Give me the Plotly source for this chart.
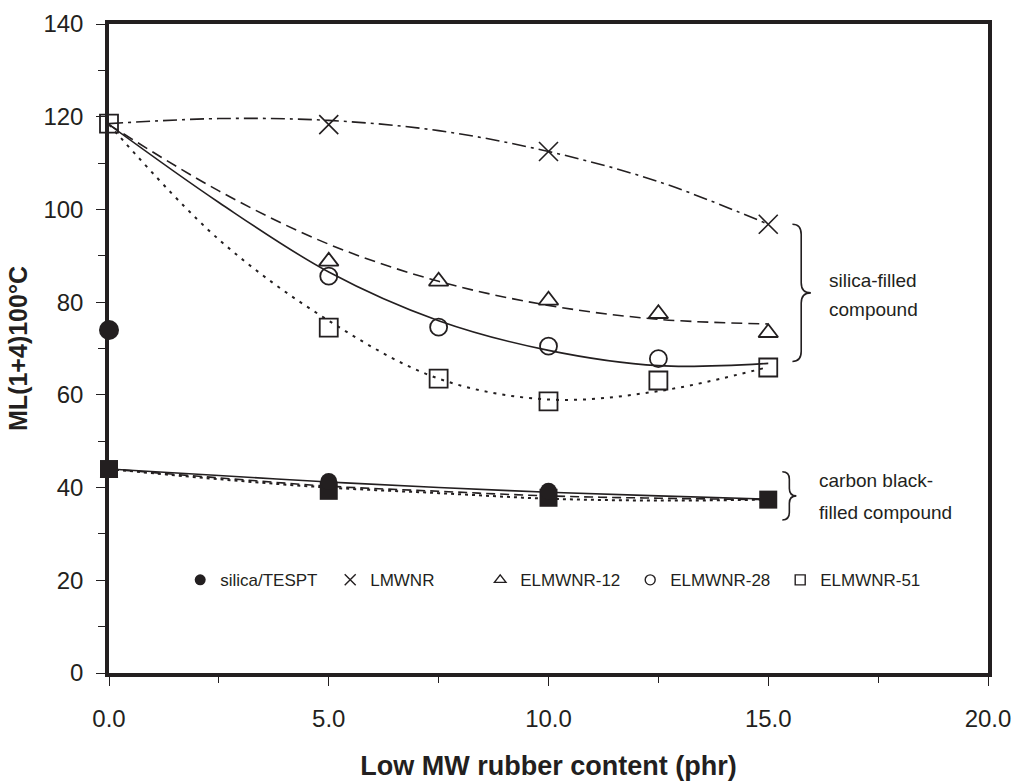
import plotly.graph_objects as go

INK = "#231f20"

# ---------------- data ----------------
# silica-filled compounds: measured points
tespt_x = [0]
tespt_y = [74.0]
lmwnr_x = [5, 10, 15]
lmwnr_y = [118.3, 112.5, 96.8]
e12_x = [5, 7.5, 10, 12.5, 15]
e12_y = [88.8, 84.5, 80.4, 77.5, 73.4]
e28_x = [5, 7.5, 10, 12.5]
e28_y = [85.6, 74.6, 70.5, 67.8]
e51_x = [0, 5, 7.5, 10, 12.5, 15]
e51_y = [118.5, 74.5, 63.5, 58.6, 63.1, 65.9]

# silica-filled trend curves
trend_x = [0, 2.5, 5, 7.5, 10, 12.5, 15]
lmwnr_trend = [118.5, 119.6, 119.2, 117.0, 112.5, 106.0, 96.8]
e12_trend = [118.3, 104.0, 92.5, 84.5, 79.3, 76.3, 75.3]
e28_trend = [118.3, 101.5, 86.5, 76.0, 69.6, 66.3, 66.8]
e51_trend = [118.3, 93.5, 76.0, 63.5, 59.0, 60.8, 66.0]

# carbon black-filled compounds: measured points
cb_sq_x = [0, 5, 10, 15]
cb_sq_y = [44.0, 39.3, 37.8, 37.4]
cb_ci_x = [5, 10]
cb_ci_y = [41.3, 39.2]
cb_tr_x = [0]
cb_tr_y = [43.0]
# carbon black trend curves
cb_solid = [44.0, 42.6, 41.2, 40.0, 39.0, 38.2, 37.5]
cb_dash = [44.0, 42.1, 40.3, 39.2, 38.2, 37.7, 37.4]
cb_dot = [44.0, 41.8, 40.0, 38.8, 37.6, 37.2, 37.4]

legend_names = ["silica/TESPT", "LMWNR", "ELMWNR-12", "ELMWNR-28", "ELMWNR-51"]
legend_symbols = ["circle", "x-thin-open", "triangle-up-open", "circle-open", "square-open"]

# ---------------- figure ----------------
fig = go.Figure()


def line(x, y, dash, width=1.6):
    fig.add_trace(go.Scatter(x=x, y=y, mode="lines", showlegend=False, hoverinfo="skip",
                             line=dict(color=INK, width=width, dash=dash, shape="spline", smoothing=1.0),
                             cliponaxis=False))


def marks(x, y, symbol, size, lw=1.8):
    fig.add_trace(go.Scatter(x=x, y=y, mode="markers", showlegend=False, cliponaxis=False,
                             marker=dict(symbol=symbol, size=size, color=INK,
                                         line=dict(color=INK, width=lw))))


# trend lines
line(trend_x, lmwnr_trend, "14px,5px,3px,5px")
line(trend_x, e12_trend, "11px,6px")
line(trend_x, e28_trend, "solid")
line(trend_x, e51_trend, "3px,6px", width=2)
line(trend_x, cb_solid, "solid")
line(trend_x, cb_dash, "9px,5px")
line(trend_x, cb_dot, "3px,4px", width=2)

# markers - silica
marks(lmwnr_x, lmwnr_y, "x-thin-open", 19, lw=1.6)
marks(e12_x, e12_y, "triangle-up-open", 17)
marks(e28_x, e28_y, "circle-open", 17)
marks(e51_x, e51_y, "square-open", 18)
marks(tespt_x, tespt_y, "circle", 20, lw=0)
# markers - carbon black
marks(cb_tr_x, cb_tr_y, "triangle-up", 16, lw=0)
marks(cb_sq_x, cb_sq_y, "square", 18, lw=0)
marks(cb_ci_x, cb_ci_y, "circle", 17, lw=0)

# legend entries
for name, sym in zip(legend_names, legend_symbols):
    if sym == "x-thin-open":
        mk = dict(symbol=sym, size=11, color=INK, line=dict(color=INK, width=1.4))
    elif "open" in sym:
        mk = dict(symbol=sym, size=10, color=INK, line=dict(color=INK, width=1.4))
    else:
        mk = dict(symbol=sym, size=11, color=INK, line=dict(width=0))
    fig.add_trace(go.Scatter(x=[None], y=[None], mode="markers", name=name, marker=mk))

# curly braces (decorations)
def brace(x0, x1, x2, ytop, ybot, d):
    ymid = (ytop + ybot) / 2
    p = (f"M {x0},{ytop} Q {x1},{ytop} {x1},{ytop - d} L {x1},{ymid + d} "
         f"Q {x1},{ymid} {x2},{ymid} Q {x1},{ymid} {x1},{ymid - d} "
         f"L {x1},{ybot + d} Q {x1},{ybot} {x0},{ybot}")
    fig.add_shape(type="path", path=p, xref="x", yref="y", line=dict(color=INK, width=1.6))

brace(15.55, 15.75, 15.97, 96.8, 67.2, 2.2)
brace(15.32, 15.48, 15.64, 43.4, 33.0, 1.6)

ann_font = dict(family="Arial, Liberation Sans, sans-serif", size=19, color=INK)
for txt, yy, xx in [("silica-filled", 84.7, 16.34), ("compound", 78.4, 16.34),
                    ("carbon black-", 41.5, 16.11), ("filled compound", 34.6, 16.11)]:
    fig.add_annotation(x=xx, y=yy, xref="x", yref="y", text=txt, showarrow=False,
                       xanchor="left", yanchor="middle", font=ann_font)

fig.update_layout(
    width=1013, height=781,
    margin=dict(l=109, r=25, t=24, b=108),
    paper_bgcolor="white", plot_bgcolor="white",
    font=dict(family="Arial, Liberation Sans, sans-serif", color=INK),
    showlegend=True,
    legend=dict(orientation="h", x=0.081, y=20 / 140, xanchor="left", yanchor="middle",
                bgcolor="rgba(0,0,0,0)", font=dict(size=17, color=INK),
                itemwidth=30, entrywidth=105, entrywidthmode="pixels"),
)

fig.update_xaxes(
    range=[0, 20], tickvals=[0, 5, 10, 15, 20], tickformat=".1f",
    showgrid=False, zeroline=False, automargin=False,
    showline=True, mirror=True, linewidth=3.5, linecolor=INK,
    ticks="outside", ticklen=9, tickwidth=1.3, tickcolor=INK,
    minor=dict(dtick=2.5, tick0=0, ticks="outside", ticklen=6, tickwidth=1.3, tickcolor=INK),
    tickfont=dict(size=24, color=INK), ticklabelstandoff=12,
    title=dict(text="<b>Low MW rubber content (phr)</b>", font=dict(size=27, color=INK), standoff=27),
)
fig.update_yaxes(
    range=[0, 140], tickvals=[0, 20, 40, 60, 80, 100, 120, 140],
    showgrid=False, zeroline=False, automargin=False,
    showline=True, mirror=True, linewidth=3.5, linecolor=INK,
    ticks="outside", ticklen=9, tickwidth=1.3, tickcolor=INK,
    minor=dict(dtick=10, tick0=0, ticks="outside", ticklen=7, tickwidth=1.3, tickcolor=INK),
    tickfont=dict(size=24, color=INK), ticklabelstandoff=8,
    title=dict(text="<b>ML(1+4)100°C</b>", font=dict(size=25, color=INK), standoff=10),
)

fig.write_html("out.html")
